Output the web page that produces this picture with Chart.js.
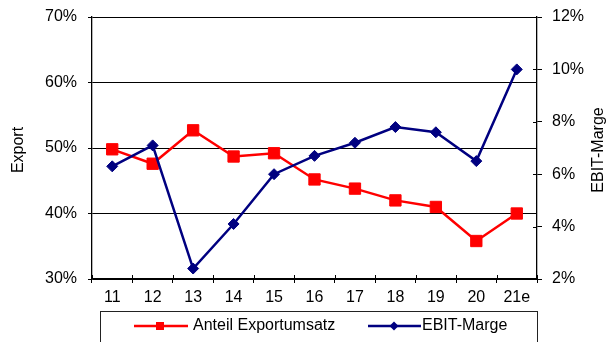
<!DOCTYPE html>
<html>
<head>
<meta charset="utf-8">
<script src="https://cdn.jsdelivr.net/npm/chart.js@4/dist/chart.umd.min.js"></script>
<style>
  html, body { margin: 0; padding: 0; background: #fff; }
  #wrap { width: 609px; height: 342px; position: relative; }
</style>
</head>
<body>
<div id="wrap"><canvas id="chart"></canvas></div>
<script>
const years = ['11', '12', '13', '14', '15', '16', '17', '18', '19', '20', '21e'];
// Anteil Exportumsatz in % (linke Achse)
const exportShare = [49.8, 47.6, 52.7, 48.7, 49.2, 45.2, 43.8, 42.0, 41.0, 35.8, 40.0];
// EBIT-Marge in % (rechte Achse)
const ebitMargin = [6.3, 7.1, 2.4, 4.1, 6.0, 6.7, 7.2, 7.8, 7.6, 6.5, 10.0];

const FONT = '"Liberation Sans", Arial, sans-serif';
const RED = '#ff0000';
const NAVY = '#000080';

// tick marks that cross into the plot area, titles and boxed legend
const decor = {
  id: 'decor',
  beforeDatasetsDraw(chart) {
    const ctx = chart.ctx;
    const area = chart.chartArea;
    const xs = chart.scales.x;
    const y1 = chart.scales.y1;
    ctx.save();
    ctx.strokeStyle = '#000';
    ctx.lineWidth = 1;
    ctx.beginPath();
    for (let i = 0; i <= years.length; i++) {
      const px = Math.round(xs.getPixelForValue(i - 0.5)) + 0.5;
      ctx.moveTo(px, area.bottom - 4);
      ctx.lineTo(px, area.bottom);
    }
    y1.ticks.forEach(t => {
      const py = Math.round(y1.getPixelForValue(t.value)) + 0.5;
      ctx.moveTo(area.right - 4, py);
      ctx.lineTo(area.right, py);
    });
    ctx.stroke();
    ctx.restore();
  },
  afterDraw(chart) {
    const ctx = chart.ctx;
    const area = chart.chartArea;
    const midY = (area.top + area.bottom) / 2 + 2;
    ctx.save();
    ctx.font = '16px ' + FONT;
    ctx.fillStyle = '#000';
    ctx.textAlign = 'center';
    ctx.textBaseline = 'middle';

    ctx.save();
    ctx.translate(19, midY);
    ctx.rotate(-Math.PI / 2);
    ctx.fillText('Export', 0, 0);
    ctx.restore();

    ctx.save();
    ctx.translate(599, midY);
    ctx.rotate(-Math.PI / 2);
    ctx.fillText('EBIT-Marge', 0, 0);
    ctx.restore();

    // legend box
    ctx.strokeStyle = '#222';
    ctx.lineWidth = 1;
    ctx.strokeRect(100.5, 311.5, 437, 40);

    const ly = 326;
    ctx.textAlign = 'left';
    ctx.lineWidth = 2.5;

    ctx.strokeStyle = RED;
    ctx.beginPath();
    ctx.moveTo(134, ly);
    ctx.lineTo(188, ly);
    ctx.stroke();
    ctx.fillStyle = RED;
    ctx.fillRect(156, ly - 4, 8, 8);
    ctx.fillStyle = '#000';
    ctx.fillText('Anteil Exportumsatz', 193, ly);

    ctx.strokeStyle = NAVY;
    ctx.beginPath();
    ctx.moveTo(368, ly);
    ctx.lineTo(421, ly);
    ctx.stroke();
    ctx.fillStyle = NAVY;
    ctx.beginPath();
    ctx.moveTo(394 - 4.5, ly);
    ctx.lineTo(394, ly - 4.5);
    ctx.lineTo(394 + 4.5, ly);
    ctx.lineTo(394, ly + 4.5);
    ctx.closePath();
    ctx.fill();
    ctx.fillStyle = '#000';
    ctx.fillText('EBIT-Marge', 422, ly);

    ctx.restore();
  }
};

// fixed axis sizes so the plot area sits at a known place
function fixWidth(w) {
  return scale => {
    scale.width = w;
    scale.paddingTop = 0;
    scale.paddingBottom = 0;
  };
}

new Chart(document.getElementById('chart'), {
  type: 'line',
  data: {
    labels: years,
    datasets: [
      {
        label: 'Anteil Exportumsatz',
        data: exportShare,
        yAxisID: 'y',
        borderColor: RED,
        backgroundColor: RED,
        borderWidth: 2.5,
        pointStyle: 'rect',
        pointRadius: 8,
        pointBorderWidth: 1,
        tension: 0,
        order: 2
      },
      {
        label: 'EBIT-Marge',
        data: ebitMargin,
        yAxisID: 'y1',
        borderColor: NAVY,
        backgroundColor: NAVY,
        borderWidth: 2.5,
        pointStyle: 'rectRot',
        pointRadius: 5.5,
        pointBorderWidth: 1,
        tension: 0,
        order: 1
      }
    ]
  },
  options: {
    responsive: true,
    maintainAspectRatio: false,
    animation: false,
    layout: { padding: { top: 17, left: 0, right: 0, bottom: 0 } },
    plugins: {
      legend: { display: false },
      title: { display: false },
      tooltip: { enabled: false }
    },
    scales: {
      x: {
        offset: true,
        grid: { offset: true, drawOnChartArea: false, color: '#000', tickLength: 4 },
        border: { color: '#000', width: 1.3 },
        ticks: { color: '#000', font: { family: FONT, size: 16 }, padding: 5, maxRotation: 0 },
        afterFit(scale) {
          scale.height = 63;
          scale.paddingLeft = 0;
          scale.paddingRight = 0;
        }
      },
      y: {
        position: 'left',
        min: 30,
        max: 70,
        grid: { color: '#000', lineWidth: 1, tickLength: 4 },
        border: { color: '#000', width: 1.3 },
        ticks: {
          stepSize: 10,
          color: '#000',
          font: { family: FONT, size: 16 },
          padding: 11,
          callback: v => v + '%'
        },
        afterFit: fixWidth(92)
      },
      y1: {
        position: 'right',
        min: 2,
        max: 12,
        grid: { drawOnChartArea: false, color: '#000', tickLength: 5 },
        border: { color: '#000', width: 1.3 },
        ticks: {
          stepSize: 2,
          color: '#000',
          font: { family: FONT, size: 16 },
          padding: 10,
          callback: v => v + '%'
        },
        afterFit: fixWidth(72)
      }
    }
  },
  plugins: [decor]
});
</script>
</body>
</html>
